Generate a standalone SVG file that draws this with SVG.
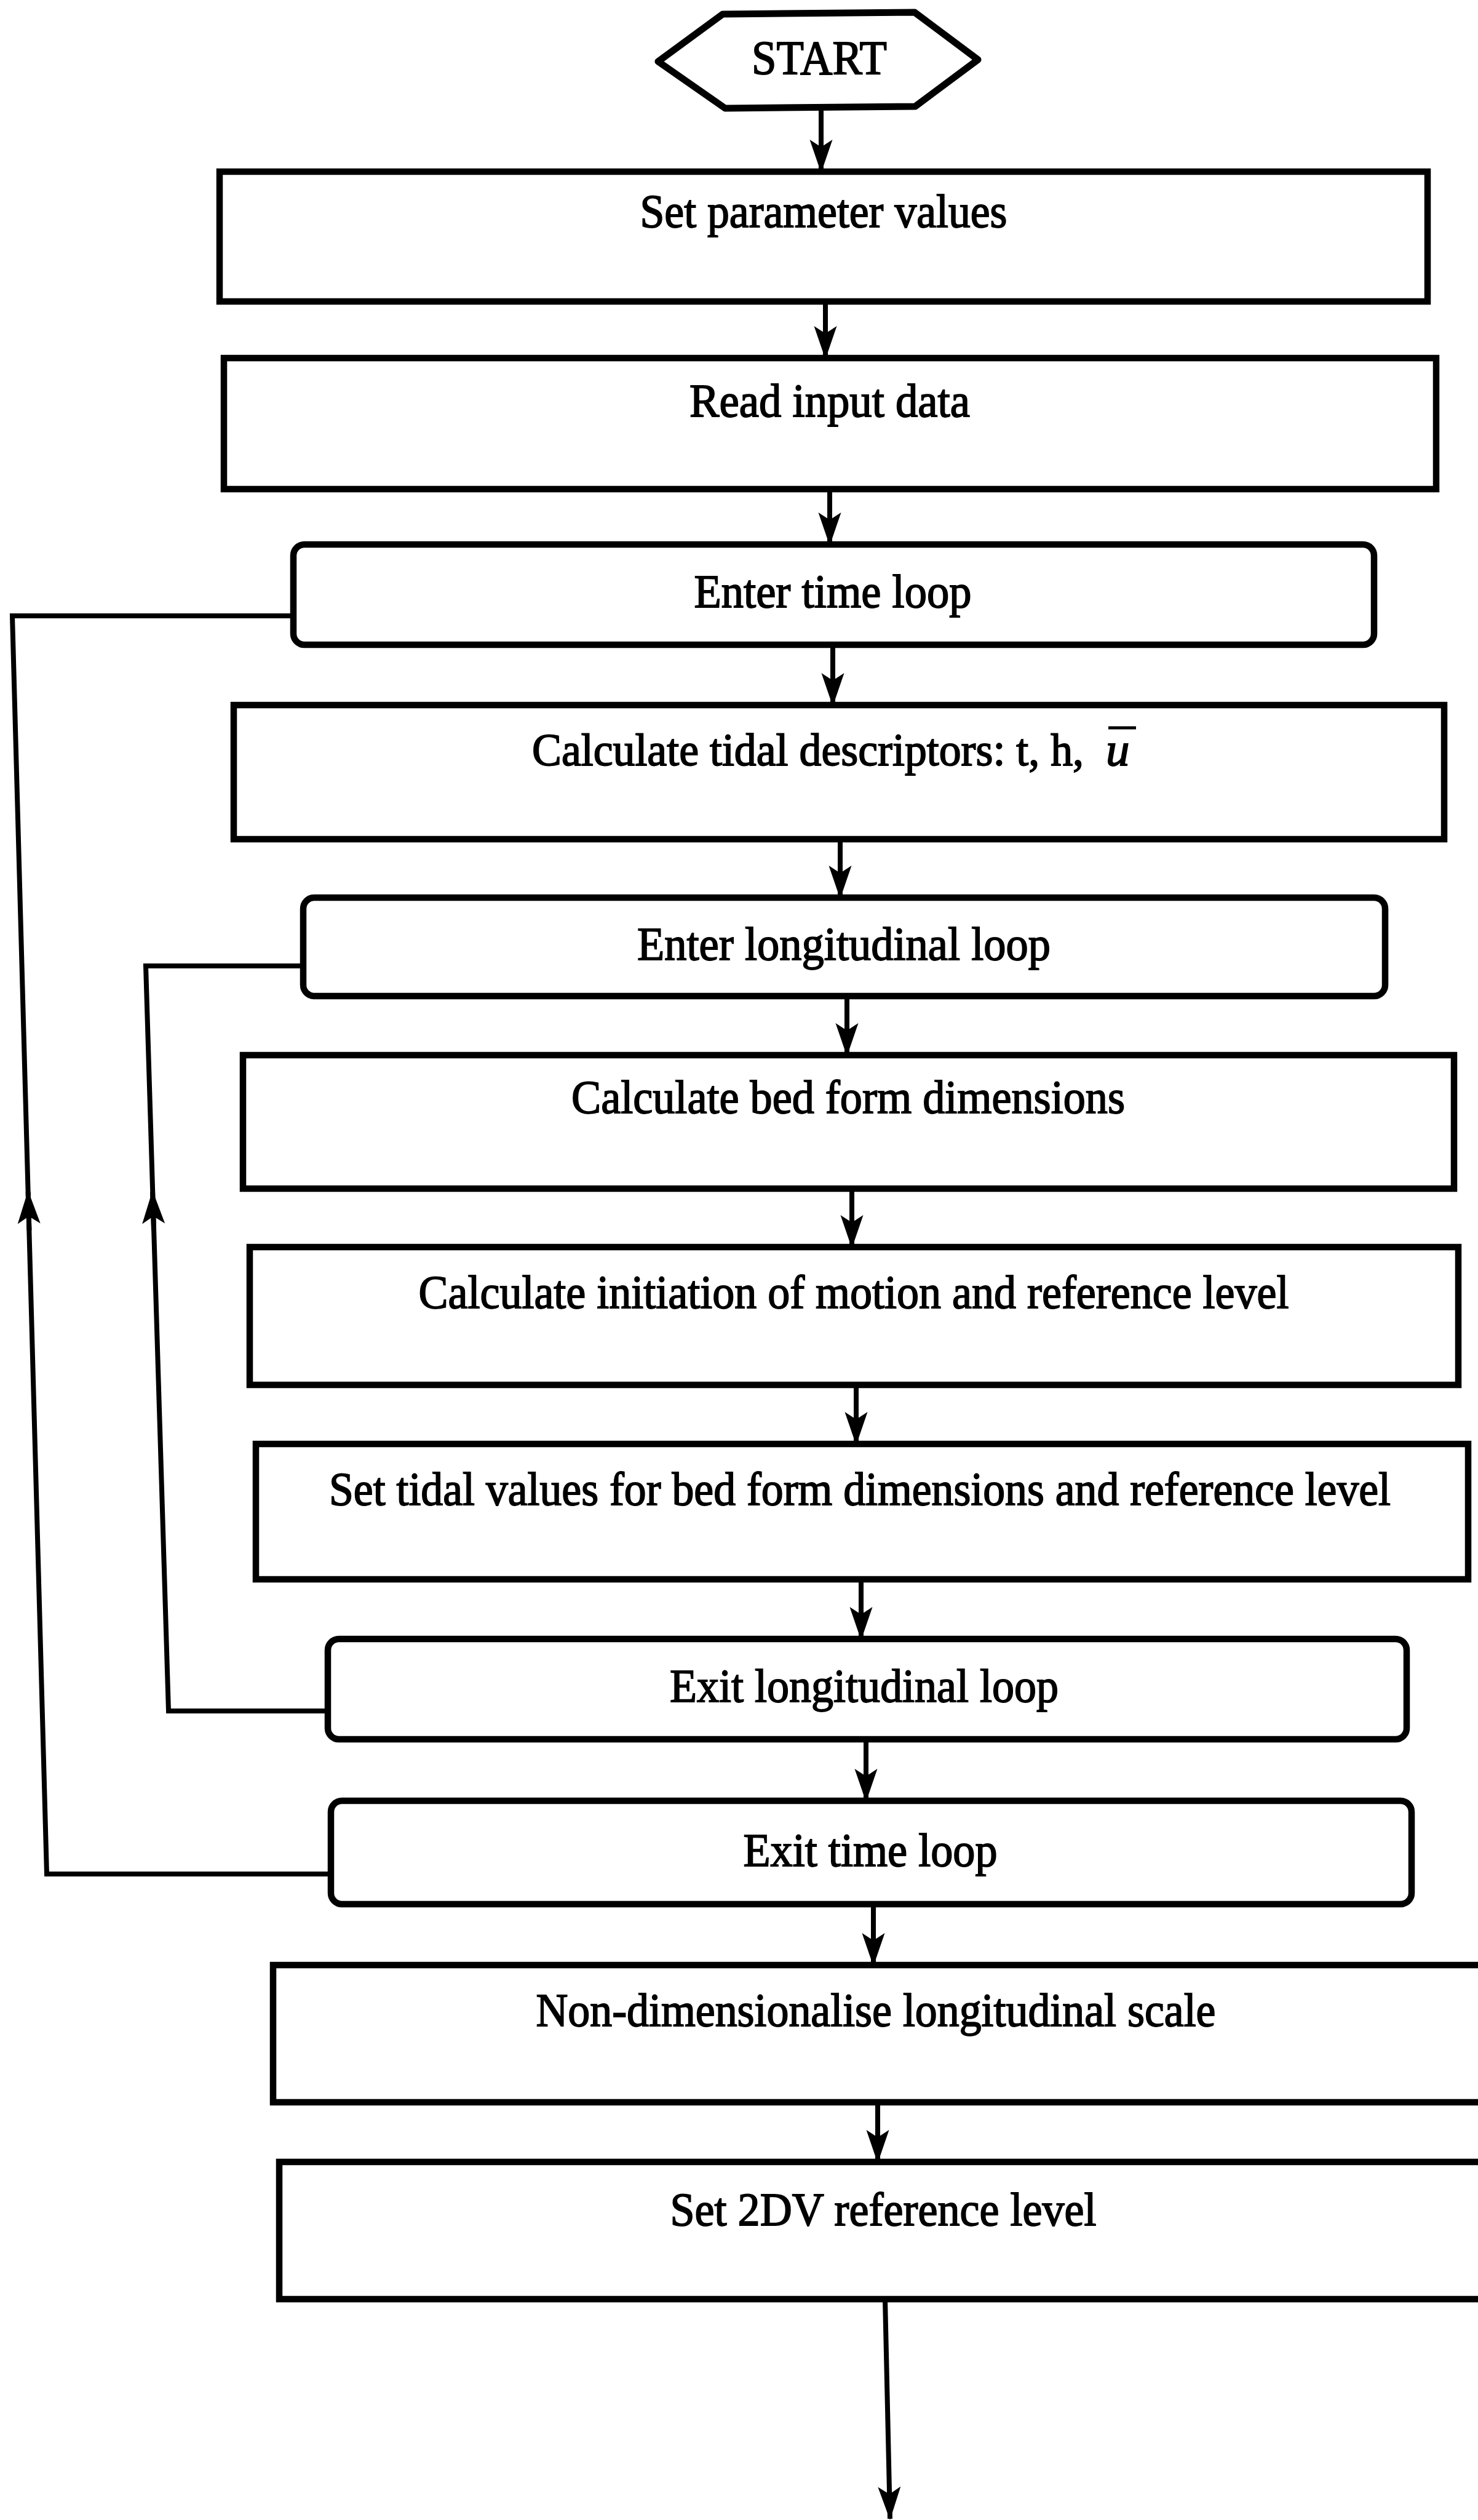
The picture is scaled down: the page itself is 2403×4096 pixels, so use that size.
<svg xmlns="http://www.w3.org/2000/svg" xmlns:xlink="http://www.w3.org/1999/xlink" width="2403" height="4096" viewBox="0 0 2403 4096">
  <style>
    .box { fill: #fff; stroke: #000; stroke-width: 10.5; stroke-linejoin: miter; }
    .term { fill: #fff; stroke: #000; stroke-width: 11; stroke-linejoin: round; }
    .lbl { font-family: "Liberation Serif", "Times New Roman", serif; font-size: 77px; fill: #000; stroke: #000; stroke-width: 1.8; }
    .flow { fill: none; stroke: #000; stroke-width: 8; stroke-linejoin: miter; }
    .head { fill: none; stroke: #000; stroke-width: 8; marker-end: url(#arrow); }
  </style>
  <defs>
    <!-- narrow barbed arrowhead, tip at origin, pointing along +x -->
    <marker id="arrow" markerUnits="userSpaceOnUse" viewBox="-60 -25 64 50" refX="0" refY="0" markerWidth="64" markerHeight="50" orient="auto" overflow="visible">
      <path d="M2,0 L-52,-18.5 L-40,0 L-52,18.5 Z" fill="#000"/>
    </marker>
  </defs>
  <rect width="2403" height="4096" fill="#fff"/>

  <!-- connectors -->
  <g id="connectors">
    <line class="head" x1="1335" y1="176" x2="1335" y2="279"/>
    <line class="head" x1="1342" y1="490" x2="1342" y2="582"/>
    <line class="head" x1="1349" y1="795" x2="1349" y2="885"/>
    <line class="head" x1="1354" y1="1048" x2="1354" y2="1146"/>
    <line class="head" x1="1366" y1="1364" x2="1366" y2="1459"/>
    <line class="head" x1="1377" y1="1619" x2="1377" y2="1715"/>
    <line class="head" x1="1385" y1="1932" x2="1385" y2="2027"/>
    <line class="head" x1="1392" y1="2251" x2="1392" y2="2347"/>
    <line class="head" x1="1400" y1="2567" x2="1400" y2="2664"/>
    <line class="head" x1="1408" y1="2827" x2="1408" y2="2927"/>
    <line class="head" x1="1420" y1="3095" x2="1420" y2="3194"/>
    <line class="head" x1="1427" y1="3417" x2="1427" y2="3514"/>
    <line class="head" x1="1439" y1="3737" x2="1447" y2="4094"/>
    <!-- time loop return -->
    <polyline class="flow" points="538,3046 76,3046 20,1001 477,1001"/>
    <line class="head" x1="47.5" y1="2000" x2="45.7" y2="1937"/>
    <!-- longitudinal loop return -->
    <polyline class="flow" points="533,2781 274,2781 237,1570 493,1570"/>
    <line class="head" x1="250" y1="2000" x2="248" y2="1937"/>
  </g>

  <g id="start">
    <polygon class="term" points="1070,100 1175,23 1487,20 1590,97 1488,173 1179,176"/>
    <text class="lbl" x="1222" y="120" style="font-size:78px" textLength="220" lengthAdjust="spacingAndGlyphs">START</text>
  </g>

  <g id="set-parameter-values">
    <rect class="box" x="357" y="279" width="1964" height="211"/>
    <text class="lbl" x="1040.5" y="369" textLength="597" lengthAdjust="spacingAndGlyphs">Set parameter values</text>
  </g>

  <g id="read-input-data">
    <rect class="box" x="364" y="582" width="1971" height="213"/>
    <text class="lbl" x="1121" y="677" textLength="456" lengthAdjust="spacingAndGlyphs">Read input data</text>
  </g>

  <g id="enter-time-loop">
    <rect class="box" x="477" y="885" width="1757" height="163" rx="18" ry="18"/>
    <text class="lbl" x="1128.5" y="987" textLength="451" lengthAdjust="spacingAndGlyphs">Enter time loop</text>
  </g>

  <g id="calculate-tidal-descriptors">
    <rect class="box" x="380" y="1146" width="1968" height="218"/>
    <text class="lbl" x="865" y="1244" style="font-size:74px" textLength="897" lengthAdjust="spacingAndGlyphs">Calculate tidal descriptors: t, h,</text>
    <text class="lbl" x="1798" y="1244" font-style="italic">u</text>
    <!-- mean-value bar over u -->
    <line x1="1802" y1="1183" x2="1847" y2="1183" stroke="#000" stroke-width="5"/>
  </g>

  <g id="enter-longitudinal-loop">
    <rect class="box" x="493" y="1459" width="1759" height="160" rx="18" ry="18"/>
    <text class="lbl" x="1036" y="1560" textLength="672" lengthAdjust="spacingAndGlyphs">Enter longitudinal loop</text>
  </g>

  <g id="calculate-bed-form-dimensions">
    <rect class="box" x="395" y="1715" width="1969" height="217"/>
    <text class="lbl" x="929" y="1809" textLength="900" lengthAdjust="spacingAndGlyphs">Calculate bed form dimensions</text>
  </g>

  <g id="calculate-initiation-of-motion">
    <rect class="box" x="406" y="2027" width="1965" height="224"/>
    <text class="lbl" x="680.5" y="2126" textLength="1415" lengthAdjust="spacingAndGlyphs">Calculate initiation of motion and reference level</text>
  </g>

  <g id="set-tidal-values">
    <rect class="box" x="416" y="2347" width="1971" height="220"/>
    <text class="lbl" x="535" y="2446" textLength="1726" lengthAdjust="spacingAndGlyphs">Set tidal values for bed form dimensions and reference level</text>
  </g>

  <g id="exit-longitudinal-loop">
    <rect class="box" x="533" y="2664" width="1754" height="163" rx="18" ry="18"/>
    <text class="lbl" x="1089" y="2766" textLength="632" lengthAdjust="spacingAndGlyphs">Exit longitudinal loop</text>
  </g>

  <g id="exit-time-loop">
    <rect class="box" x="538" y="2927" width="1757" height="168" rx="18" ry="18"/>
    <text class="lbl" x="1208.5" y="3033" textLength="413" lengthAdjust="spacingAndGlyphs">Exit time loop</text>
  </g>

  <g id="non-dimensionalise-scale">
    <rect class="box" x="444" y="3194" width="2040" height="223"/>
    <text class="lbl" x="871.5" y="3293" textLength="1105" lengthAdjust="spacingAndGlyphs">Non-dimensionalise longitudinal scale</text>
  </g>

  <g id="set-2dv-reference-level">
    <rect class="box" x="454" y="3514" width="2030" height="223"/>
    <text class="lbl" x="1089.5" y="3617" textLength="693" lengthAdjust="spacingAndGlyphs">Set 2DV reference level</text>
  </g>
</svg>
